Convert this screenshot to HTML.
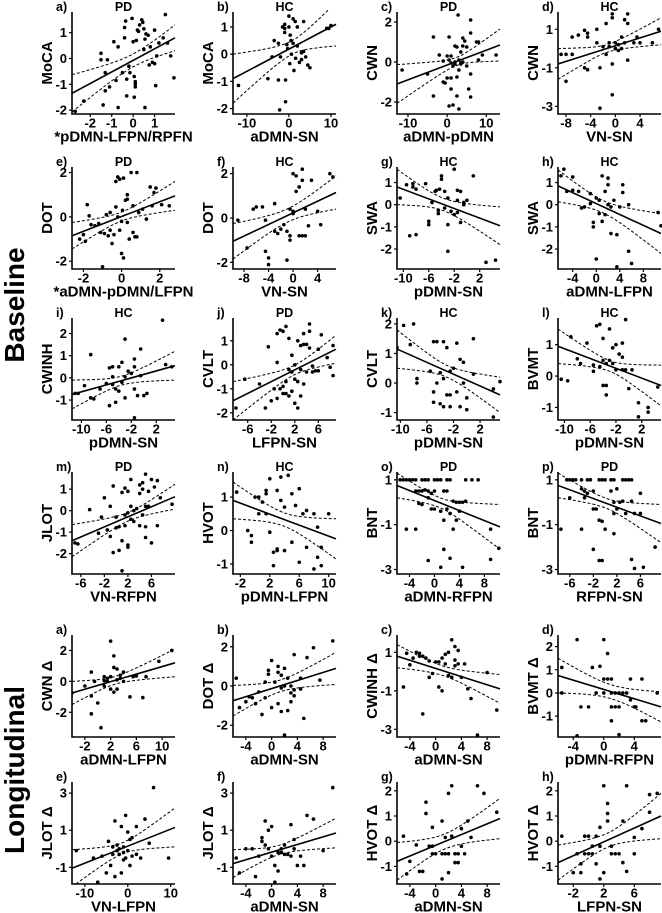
<!DOCTYPE html>
<html><head><meta charset="utf-8"><style>
html,body{margin:0;padding:0;background:#fff;}
svg{display:block;font-family:"Liberation Sans",Arial,sans-serif;font-weight:bold;}
</style></head><body>
<svg id="fig" width="662" height="913" viewBox="0 0 662 913" xmlns="http://www.w3.org/2000/svg">
<text x="0" y="0" transform="translate(24,305) rotate(-90)" text-anchor="middle" font-size="28">Baseline</text>
<text x="0" y="0" transform="translate(24,770) rotate(-90)" text-anchor="middle" font-size="28">Longitudinal</text>
</svg>
<script>
// ---- data arrays: points [x,y], fit [yLeft,yRight], ci half-widths [left,min,right] ----
const ptsA=[[-2.7,-2.05],[-2.3,-1.65],[-1.5,0.2],[-1.5,-0.05],[-1.2,-0.05],[-1.4,-1.8],[-1.3,-1.25],[-1.3,-0.55],[-1.1,-1.1],[-0.9,0.65],[-0.8,-0.85],[-0.7,0.45],[-0.7,-1.9],[-0.5,-0.55],[-0.4,1.2],[-0.35,1.45],[-0.4,0.8],[-0.3,-0.8],[-0.3,-1.45],[-0.2,-0.3],[-0.15,-0.55],[-0.05,1.55],[0,0.65],[0.05,-0.7],[0.05,-1.5],[0.1,-1.0],[0.1,-1.1],[0.1,-0.9],[0.15,0.7],[0.2,1.1],[0.25,1.05],[0.3,1.3],[0.4,1.5],[0.45,1.4],[0.5,1.15],[0.5,0.35],[0.55,0.75],[0.6,0.95],[0.55,-1.9],[0.7,0.9],[0.75,-0.25],[0.8,0.45],[0.9,-0.15],[1.0,1.1],[1.0,-0.2],[1.05,-1.05],[1.1,0.1],[1.2,0.6],[1.4,0.8],[1.5,1.7],[1.6,0.6],[1.75,0.1],[1.9,-0.75]];
const fitA=[-1.35,0.8]; const ciA=[0.72,0.25,0.5];
const ptsB=[[-12,-1.15],[-5,-0.9],[-4,-0.1],[-3.5,0.5],[-2.5,0.4],[-2.5,-0.95],[-2.2,-2.05],[-2,-0.1],[-1.5,1.0],[-1,0.95],[-1,1.1],[-1,0.8],[-0.8,-0.95],[-0.8,-1.75],[-0.5,0.35],[-0.3,0.2],[0,1.4],[0,1.0],[0.2,-0.35],[0.3,0.7],[0.5,0.5],[0.6,0.0],[1,1.3],[1,0.4],[1.2,-0.6],[1.5,1.2],[1.6,-0.15],[2,1.0],[2,0.3],[2.5,-0.3],[3,-0.2],[3,0.05],[3.5,1.2],[3.5,0.1],[4,-0.1],[4.5,-0.4],[5,-0.5],[9,0.95],[9.5,0.95],[10,1.05]];
const fitB=[-0.9,1.1]; const ciB=[0.9,0.25,0.8];
const ptsC=[[-11.5,-0.4],[-5,-0.6],[-3.5,-1.7],[-3.5,1.25],[-2,0.35],[-1,-1.0],[-0.5,-1.05],[0,0.3],[0,-0.8],[0.5,1.25],[0.5,0.1],[0.5,-2.2],[1,-0.8],[1,-1.35],[1,0.3],[1.5,-0.2],[1.5,-2.15],[2,0.8],[2,0],[2,-0.1],[2.5,0.75],[2.5,-0.75],[2.5,-1.7],[2.8,2.35],[3,0.1],[3,-2.35],[3,-0.4],[3.5,0.5],[3.5,-0.1],[4,1.2],[4,0.8],[4,0.0],[4.5,1.05],[5,0.75],[5,-0.2],[5.5,-1.35],[6,2.1],[6,1.45],[6,-0.6],[6,-1.75],[7.5,1.0],[8,1.0],[8,0.1],[9,0.35],[12.5,0.35],[-1,0.05],[1,-0.05],[3.5,-0.05]];
const fitC=[-1.1,0.85]; const ciC=[0.97,0.2,0.8];
const ptsD=[[-8.8,-0.3],[-8,-1.7],[-8,-0.3],[-7,0.6],[-7,-0.3],[-6,0.7],[-5,0.95],[-5,-1.0],[-4.5,0.8],[-4.5,-1.1],[-4.5,0.6],[-3,1.0],[-3,0.3],[-2.5,-3.1],[-2.5,-1.0],[-2,0.1],[-1.5,-0.3],[-1.5,1.3],[-1,0.1],[-1,0.3],[-0.5,1.8],[-0.5,1.6],[-0.5,-0.8],[-0.5,-2.4],[0,0.3],[0,0],[0.5,0.2],[0.5,-0.1],[1,0.0],[1,0.6],[1.5,0.3],[1.5,1.5],[2,1.8],[2,1.3],[2,-0.6],[3,0.3],[3.5,0.6],[4,0.3],[6,0.3],[7,1.0]];
const fitD=[-0.8,0.9]; const ciD=[0.8,0.2,0.7];
const ptsE=[[-2.2,-1.0],[-2,-0.8],[-1.9,-1.1],[-1.8,0.55],[-1.7,0.05],[-1.6,-0.35],[-1.4,-0.4],[-1.2,-0.3],[-1.1,-0.7],[-1,-2.25],[-0.9,-0.75],[-0.8,0.1],[-0.7,-0.85],[-0.6,-0.6],[-0.6,0.2],[-0.5,-1.2],[-0.4,-0.8],[-0.3,0.45],[-0.3,1.6],[-0.2,1.8],[-0.1,1.7],[-0.1,-0.6],[0,-0.2],[0,-1.65],[0.05,0.3],[0.1,-1.85],[0.1,1.75],[0.2,0.75],[0.3,1.0],[0.3,0.8],[0.4,-1.0],[0.5,2.0],[0.6,0.5],[0.6,-0.7],[0.7,-0.9],[0.8,2.0],[0.8,-0.9],[0.9,0.2],[1.1,0.35],[1.3,-0.1],[1.5,1.35],[1.6,0.5],[1.7,1.1],[1.8,1.3],[2.1,0.55],[2.5,0.5],[-0.2,0.0],[0.3,-0.25]];
const fitE=[-0.85,0.95]; const ciE=[0.6,0.2,0.65];
const ptsF=[[-9,-0.1],[-7.5,-1.35],[-6.5,0.4],[-6,0.5],[-5,0.5],[-4.5,-0.1],[-4.5,-1.5],[-4,-1.8],[-4,-2.1],[-3,0.65],[-3,-0.6],[-2.5,-0.7],[-2,-0.5],[-1.5,-0.3],[-1,-1.9],[-0.5,0.4],[-0.5,-1.0],[-0.5,-0.8],[0,2.0],[0,0.2],[0.5,1.2],[0.5,1.9],[1,1.4],[1,-0.8],[1.5,2.2],[1.5,1.7],[1.5,-0.8],[2,-0.8],[2,0.4],[2.5,-0.35],[3,1.7],[4,0.3],[4.5,-0.3],[6,2.0],[6.5,1.85],[0,0.3],[-1,-0.6]];
const fitF=[-1.05,1.15]; const ciF=[0.8,0.3,0.75];
const ptsG=[[-10.5,0.3],[-9.5,0.9],[-9,-1.4],[-8.5,0.8],[-8.5,0.95],[-8,-1.35],[-8,0.7],[-6.5,0.95],[-6,-0.75],[-6,-0.9],[-5.5,0.1],[-5,0.6],[-4.8,0.65],[-4.5,-0.25],[-4.5,-0.4],[-4.3,0.7],[-4,1.3],[-4,1.15],[-3.5,-0.15],[-3.5,0.6],[-3,-0.9],[-3,-2.1],[-3,0.3],[-2.5,-0.3],[-2,1.6],[-2,-0.45],[-1.5,0.2],[-1.5,-0.35],[-1,0.6],[-1,-0.8],[-0.5,0.0],[-0.5,0.1],[0,0.2],[1,1.3],[3,-2.6],[4.5,-2.5],[-1.5,0.65]];
const fitG=[0.8,-0.95]; const ciG=[0.8,0.28,0.85];
const ptsH=[[-6,1.3],[-5.5,1.6],[-5,0.6],[-4,1.25],[-4,0.65],[-3,0.6],[-2.5,-0.15],[-2,-0.1],[-1,0.5],[-1,0.05],[-0.5,-0.8],[-0.5,-1.0],[0,0.3],[0,-2.45],[0.5,0.2],[1,1.3],[1,-0.75],[1.5,0.6],[2,1.2],[2,0.9],[2,0.0],[2.5,-0.1],[2.5,-1.3],[3,0.2],[3.5,-1.35],[3.5,-2.8],[4,-0.1],[4.5,0.9],[4.5,0.55],[5.5,0.0],[5.5,-2.1],[6,-2.65],[10.5,-0.35],[11,-0.95],[0.5,-0.4],[1.5,-0.45]];
const fitH=[0.85,-1.3]; const ciH=[0.72,0.28,0.9];
const ptsI=[[-11,-0.7],[-10.5,-0.7],[-9.5,-0.35],[-8.5,1.05],[-8.5,-0.9],[-8,-0.95],[-7,-0.5],[-6,-0.25],[-5.5,0.45],[-5.5,-1.25],[-5,0.5],[-5,0.05],[-5,-0.3],[-4.5,-1.1],[-4.5,-0.5],[-4,0.5],[-4,-0.6],[-3.5,0.7],[-3.5,-0.2],[-3,-0.9],[-3,1.75],[-3,0.05],[-2.5,0.3],[-2,0.2],[-1.5,0.5],[-1.5,0.85],[-1.5,-0.5],[-1.5,-1.8],[-1,-0.8],[-0.5,1.3],[-0.5,0.1],[0,-0.8],[0.5,-0.7],[3,2.6],[3.5,0.6],[4.5,0.5]];
const fitI=[-0.75,0.55]; const ciI=[0.65,0.2,0.65];
const ptsJ=[[-8,-1.8],[-6.5,-0.6],[-4,-0.8],[-3,-1.8],[-2.5,0.75],[-2,-1.5],[-1.5,-1.0],[-1,1.3],[-1,0.1],[-1,-1.4],[-0.5,1.45],[-0.5,-1.0],[0,1.4],[0,-0.9],[0,-1.2],[0.5,1.6],[0.5,-0.7],[0.5,-1.2],[1,1.1],[1,-0.2],[1,-1.3],[1.5,0.4],[1.5,-0.3],[1.5,-1.1],[2,0.0],[2,-0.6],[2,-1.6],[2.5,-1.8],[2.5,1.0],[2.5,-0.7],[3,0.8],[3,-0.2],[3,-1.3],[3.5,1.3],[3.5,0.85],[3.5,-0.8],[4,0.85],[4,-0.3],[4.5,1.7],[4.5,1.4],[4.5,0.7],[5,-0.05],[5,-0.3],[5.5,-0.25],[6,-0.25],[6,0.65],[6.5,1.25],[7.5,0.3],[8,-0.1],[8.5,0.8],[8.5,-0.45]];
const fitJ=[-1.5,0.65]; const ciJ=[0.8,0.2,0.58];
const ptsK=[[-10.5,1.2],[-9.5,1.95],[-8.5,1.3],[-8,2.0],[-7.5,0.15],[-7.5,0.0],[-5.5,0.4],[-5,1.4],[-5,-0.65],[-5,-0.3],[-4.5,1.4],[-4.5,0.0],[-4,-0.7],[-4,0.35],[-3.5,-0.8],[-3.5,1.4],[-3.5,0.15],[-3,1.2],[-3,-0.4],[-2.5,-0.4],[-2.5,0.4],[-2.5,-0.8],[-2,0.5],[-1.5,1.35],[-1.5,-0.3],[-1,0.8],[-1,-0.8],[-0.5,0.7],[-0.5,0.0],[0,-0.5],[0,-0.9],[1,1.5],[1,0.3],[4,-0.2],[4,-1.15],[5,0.05]];
const fitK=[1.15,-0.4]; const ciK=[0.65,0.2,0.6];
const ptsL=[[-10.5,-0.1],[-9.5,-0.15],[-9,1.25],[-8,0.55],[-7.5,0.4],[-6.5,1.05],[-5.5,0.35],[-5.5,0.15],[-5,1.6],[-4.5,0.3],[-4.5,1.65],[-4,1.2],[-4,0.5],[-4,-0.3],[-3.5,-0.3],[-3.5,0.4],[-3.5,-0.6],[-3,1.5],[-3,0.5],[-2.5,0.9],[-2.5,0.4],[-2,1.0],[-2,0.2],[-1.5,0.7],[-1,1.05],[-1,0.6],[-1,0.2],[-0.5,1.8],[-0.5,0.2],[0,-0.4],[0.5,0.2],[1.5,-0.85],[1.5,-1.3],[3,-1.0],[3,-1.15],[4.5,-0.35]];
const fitL=[0.95,-0.3]; const ciL=[0.55,0.17,0.65];
const ptsM=[[-7,-1.5],[-6.5,-1.55],[-4.5,0.05],[-3,-1.05],[-2.5,-0.3],[-2,0.6],[-1.5,-0.9],[-1,-1.2],[-1,0.2],[-0.5,-1.95],[-0.5,1.15],[0,-0.3],[0,-0.8],[0.5,-1.85],[0.5,-0.75],[1,-2.8],[1,0.85],[1,-1.4],[1.5,-0.2],[1.5,1.05],[1.5,-0.7],[2,-1.7],[2,-0.1],[2,0.9],[2,-1.6],[2.5,1.45],[2.5,-0.4],[3,-0.5],[3,0.0],[3.5,0.1],[4,-0.7],[4,0.8],[4,1.2],[4.5,1.3],[4.5,1.0],[4.5,-0.2],[5,1.7],[5,-0.75],[5,-1.25],[5.5,0.9],[5.5,0.2],[6,-1.5],[6,1.45],[6.5,1.1],[7,1.4],[7,-0.7],[7.5,0.6],[9.5,0.3],[5,0.2],[2.5,0.2]];
const fitM=[-1.4,0.65]; const ciM=[0.75,0.2,0.58];
const ptsN=[[-2.5,1.15],[-1,0.0],[-0.5,-0.35],[-0.5,-0.15],[0,1.0],[0.5,1.0],[0.5,0.5],[1,0.85],[1.5,1.2],[1.5,1.1],[1.5,0.5],[2,-0.05],[2,1.55],[2.5,-0.65],[2.5,-1.05],[3,-0.6],[3,-0.55],[3,1.2],[3.5,1.6],[3.5,0.9],[4,-0.6],[4,0.7],[4.5,1.65],[5,1.1],[5,-0.35],[5.5,0.75],[6,1.25],[6,-0.95],[6.5,0.5],[7,-0.5],[7,0.6],[8,-1.15],[8,0.5],[8.5,0.1],[8.5,-0.8],[9,-0.5],[9,-1.05],[10,0.5]];
const fitN=[0.9,-0.25]; const ciN=[0.55,0.2,0.6];
const ptsO=[[-5.5,1],[-5,1],[-4.5,1],[-4,1],[-3.5,1],[-3,1],[-2,1],[-1.5,1],[-1,1],[0,1],[0.5,1],[1,1],[2,1],[2.5,1],[5,1],[6,1],[7,1],[-4.5,-1.2],[-3,-1.2],[-3,0.5],[-2.5,0.5],[-2,0.5],[-1.5,0.55],[-1,0.5],[-0.5,0.4],[0,0.5],[1.5,0.5],[2,0.5],[-2,-0.1],[-1,0.2],[-0.5,-0.3],[0,-0.3],[1,-0.4],[2,-0.3],[3,0.05],[3.5,0],[4,0],[4.5,0.0],[5,0.05],[4,-0.4],[-1,-2.6],[1,-2.9],[1.5,-2.1],[2.5,-2.5],[3,-1.2],[3.5,-0.8],[4.5,-2.9],[1.5,-0.8],[9,-1.2],[9,-2.55],[10.3,-2.05],[-2.5,-0.05],[2.5,-0.5]];
const fitO=[0.75,-1.1]; const ciO=[0.55,0.22,1.0];
const ptsP=[[-7.5,-1.2],[-6.5,1],[-6,1],[-5.5,1],[-5,1],[-4,1],[-3,1],[-2.5,1],[-1,1],[-0.5,1],[0,1],[1,1],[1.5,1],[3,1],[3.5,1],[4,1],[4.5,1],[-6,0.2],[-4,0.6],[-3.5,0.5],[-3,0.4],[-3.5,0.2],[-2,-0.3],[-1.5,-0.3],[-1,-0.8],[-0.5,-0.85],[0,-1.2],[1,0.5],[1.5,0.0],[1.5,-0.5],[2,-0.3],[2.5,0.0],[3,0.05],[3.5,-0.5],[4.5,0.05],[5,-0.5],[6,0.4],[6,-0.5],[-4,-1.2],[-2,-2.1],[-1,-2.6],[-0.5,-2.6],[4.5,-2.55],[5,-2.95],[6.5,-2.9],[8.5,-2.0],[1.5,-1.4],[-2,0.5],[2,0.6]];
const fitP=[0.75,-0.95]; const ciP=[0.55,0.22,0.85];
const ptsLA=[[-4,-0.75],[-2,-0.3],[-1,0.6],[-1,-0.95],[-1,-2.1],[-0.5,0],[0,-1.4],[0.5,-3.0],[1,0.3],[1,-0.3],[1.5,0.2],[1.5,0],[2,0.3],[2,-0.5],[2,2.6],[2.5,0.9],[2.5,1.65],[2.5,-0.7],[3,0.8],[3,-0.5],[3.5,0.4],[3.5,0.2],[4,0.6],[4,0],[5,-1.0],[5.5,0.3],[6,0.35],[7,-1.05],[7.5,0.3],[9.5,1.3],[11.5,2.0],[3,0.1],[1,0.05]];
const fitLA=[-0.75,1.2]; const ciLA=[0.75,0.25,0.9];
const ptsLB=[[-5.5,0.4],[-5,-1.1],[-4,-0.8],[-3.5,-0.55],[-3,-0.6],[-2.5,-0.9],[-2,-0.3],[-1.5,-1.45],[-1,0.2],[-1,-0.6],[-0.5,0.8],[-0.5,0.6],[0,-1.1],[0,1.3],[0.5,0.2],[1,1.0],[1,0.7],[1,-0.9],[1.5,-1.3],[1.5,0.55],[1.5,-0.1],[2,0.0],[2,-2.5],[2,0.9],[2.5,0.4],[2.5,-1.25],[3,-0.8],[3,0.0],[3.5,-0.5],[3.5,-0.2],[3.5,1.6],[4.5,0.4],[4.5,-0.15],[5,-1.65],[5.5,1.45],[6.5,1.95],[7.5,0.3],[9.5,2.3],[3,-0.35]];
const fitLB=[-0.75,0.9]; const ciLB=[0.78,0.3,0.82];
const ptsLC=[[-5,-0.8],[-4.5,0.95],[-4,0.35],[-3.5,0.7],[-3,1.0],[-2.5,0.95],[-2.5,0.8],[-2,-2.2],[-2,0.8],[-1.5,0.7],[-1,0.55],[-1,-0.3],[-0.5,-0.1],[0,0.5],[0.5,0.5],[0.5,-0.8],[1,-1.0],[1,0.7],[1.5,0.9],[1.5,0.4],[2,1.0],[2,-0.2],[2.5,1.65],[2.5,-0.3],[3,1.3],[3,0.6],[3,0.3],[3.5,1.1],[3.5,0.4],[4,-0.3],[4.5,0.4],[5,-0.9],[5.5,-1.4],[6.5,-3.3],[8,-0.05],[9.5,-2.0]];
const fitLC=[0.8,-0.9]; const ciLC=[0.6,0.25,0.75];
const ptsLD=[[-5.5,1.1],[-5.5,0.0],[-3.5,2.3],[-3.5,-1.85],[-3,-0.6],[-2,-0.6],[-1.5,1.1],[-1,0.0],[-0.5,1.15],[0,2.3],[0,0.6],[0,0.0],[0.5,1.7],[0.5,0.6],[1,0.6],[1,0.0],[1,-0.6],[1,-1.2],[1.5,0],[1.5,-0.6],[2,0],[2,-1.8],[2,-0.6],[2.5,0],[3,0],[3.5,0.6],[3.5,-0.3],[4,-0.6],[4.2,-0.6],[5,0.6],[5,-1.2],[5.5,-1.2],[7,0.0]];
const fitLD=[0.75,-0.6]; const ciLD=[0.75,0.3,0.65];
const ptsLE=[[-12,-0.1],[-8,-0.5],[-7,-1.8],[-6,-0.4],[-5,-1.3],[-4.5,0.4],[-4,-0.9],[-3.5,0.1],[-3,-1.5],[-3,1.5],[-2.5,-0.1],[-2,-0.3],[-2,0.0],[-1.5,1.2],[-1.5,-1.3],[-1,-0.2],[-1,-0.6],[-0.5,1.8],[-0.5,-0.5],[0,-0.1],[0,0.9],[0.5,-0.9],[0.5,0.5],[1,0.6],[1,-0.4],[2,1.2],[2,-0.3],[3,-0.5],[4,1.6],[5,0.3],[6,3.3],[9.5,-0.5],[-3.5,-0.3],[-2.5,0.2],[-1,0.1]];
const fitLE=[-1.05,1.15]; const ciLE=[1.0,0.3,1.05];
const ptsLF=[[-5.5,-0.5],[-5,-1.3],[-4,0],[-3,0],[-2.5,-1.5],[-2,-0.4],[-1.5,0.6],[-1.5,0.4],[-1,1.5],[-1,0.2],[-0.5,1.0],[-0.5,0.0],[0,1.2],[0,-0.4],[0.5,-1.8],[0.5,-0.9],[1,-1.2],[1,-0.2],[1.5,-0.2],[1.5,0],[2,-0.3],[2,0.2],[2.5,-0.3],[3,1.3],[3,-0.4],[3.5,0.5],[3.5,0.0],[4,-0.9],[4.5,-0.4],[5,-0.9],[5.5,1.8],[6.5,1.6],[8,-0.1],[9.5,3.3]];
const fitLF=[-0.8,0.85]; const ciLF=[0.75,0.25,0.8];
const ptsLG=[[-5,0.2],[-4.5,-1.3],[-4,-0.8],[-3,-0.15],[-2.5,-1.2],[-2,-1.2],[-1.5,1.55],[-1.5,1.1],[-1,-0.2],[-0.5,0.55],[-0.5,-0.2],[-0.5,-0.5],[0,-0.5],[1,0.8],[1,-1.5],[1,-0.5],[1.5,0.15],[1.5,-0.5],[2,1.9],[2,-1.25],[2,-0.5],[2.5,2.2],[2.5,0.2],[3,-0.5],[3,-0.85],[3.5,-0.85],[3.5,-0.5],[4,-0.2],[4,0.5],[4.5,-0.5],[5,0.8],[5.5,0.15],[6.5,2.2],[7.5,1.9],[9.5,1.15]];
const fitLG=[-0.8,0.9]; const ciLG=[0.75,0.3,0.8];
const ptsLH=[[-3.5,0.2],[-2,-1.25],[-1.5,-0.5],[-1,-1.25],[-1,-0.9],[-0.5,0.2],[-0.5,-0.5],[0,0.2],[0,-0.5],[0.5,-0.5],[0.5,-0.2],[1,0.2],[1,-0.9],[1.5,-1.5],[1.5,-0.2],[1.5,0.55],[2,2.2],[2,-1.25],[2.5,1.5],[2.5,0.8],[2.5,1.1],[3,-0.5],[3,-0.2],[3.5,-0.5],[4,-0.5],[4.5,0.8],[4.5,-0.85],[5,2.2],[5,-1.2],[6,-0.5],[6,0.15],[7,0.5],[8,1.15],[8,1.85],[9,1.9]];
const fitLH=[-0.85,1.0]; const ciLH=[0.7,0.28,0.9];

// ---- tick arrays ----
const xtA=[-2,-1,0,1], ytA=[-2,-1,0,1];
const xtB=[-10,0,10], ytB=[-2,-1,0,1];
const xtC=[-10,0,10], ytC=[-2,0,2];
const xtD=[-8,-4,0,4], ytD=[-3,-1,1];
const xtE=[-2,0,2], ytE=[-2,0,2];
const xtF=[-8,-4,0,4], ytF=[-2,0,2];
const xtG=[-10,-6,-2,2], ytG=[-2,-1,0,1];
const xtH=[-4,0,4,8], ytH=[-2,-1,0,1];
const xtI=[-10,-6,-2,2], ytI=[-1,0,1,2];
const xtJ=[-6,-2,2,6], ytJ=[-2,-1,0,1];
const xtK=[-10,-6,-2,2], ytK=[-1,0,1,2];
const xtL=[-10,-6,-2,2], ytL=[-1,0,1];
const xtM=[-6,-2,2,6], ytM=[-2,-1,0,1];
const xtN=[-2,2,6,10], ytN=[-1,0,1];
const xtO=[-4,0,4,8], ytO=[-3,-1,1];
const xtP=[-6,-2,2,6], ytP=[-3,-1,1];
const xtLA=[-2,2,6,10], ytLA=[-2,0,2];
const xtLB=[-4,0,4,8], ytLB=[-2,0,2];
const xtLC=[-4,0,4,8], ytLC=[-3,-1,1];
const xtLD=[-4,0,4], ytLD=[-1,0,1,2];
const xtLE=[-10,0,10], ytLE=[-1,1,3];
const xtLF=[-4,0,4,8], ytLF=[-1,1,3];
const xtLG=[-4,0,4,8], ytLG=[-1,0,1,2];
const xtLH=[-2,2,6], ytLH=[-1,0,1,2];

const colX=[72,233,397,558], rowY=[12,167,318,472,635,782], PW=103, PH=102;
const panels=[
 {id:'a',r:0,c:0,t:'PD',yl:'MoCA',xl:'*pDMN-LFPN/RPFN',xd:[-2.85,1.95],yd:[-2.15,1.8],pts:ptsA,fit:fitA,ci:ciA,xt:xtA,yt:ytA},
 {id:'b',r:0,c:1,t:'HC',yl:'MoCA',xl:'aDMN-SN',xd:[-13.3,11.2],yd:[-2.2,1.55],pts:ptsB,fit:fitB,ci:ciB,xt:xtB,yt:ytB},
 {id:'c',r:0,c:2,t:'PD',yl:'CWN',xl:'aDMN-pDMN',xd:[-12.8,13.5],yd:[-2.6,2.5],pts:ptsC,fit:fitC,ci:ciC,xt:xtC,yt:ytC},
 {id:'d',r:0,c:3,t:'HC',yl:'CWN',xl:'VN-SN',xd:[-9.3,7.4],yd:[-3.4,1.9],pts:ptsD,fit:fitD,ci:ciD,xt:xtD,yt:ytD},
 {id:'e',r:1,c:0,t:'PD',yl:'DOT',xl:'*aDMN-pDMN/LFPN',xd:[-2.6,2.8],yd:[-2.35,2.25],pts:ptsE,fit:fitE,ci:ciE,xt:xtE,yt:ytE},
 {id:'f',r:1,c:1,t:'HC',yl:'DOT',xl:'VN-SN',xd:[-9.8,7],yd:[-2.3,2.3],pts:ptsF,fit:fitF,ci:ciF,xt:xtF,yt:ytF},
 {id:'g',r:1,c:2,t:'HC',yl:'SWA',xl:'pDMN-SN',xd:[-11,5.2],yd:[-2.9,1.7],pts:ptsG,fit:fitG,ci:ciG,xt:xtG,yt:ytG},
 {id:'h',r:1,c:3,t:'HC',yl:'SWA',xl:'aDMN-LFPN',xd:[-6.5,11],yd:[-2.9,1.7],pts:ptsH,fit:fitH,ci:ciH,xt:xtH,yt:ytH},
 {id:'i',r:2,c:0,t:'HC',yl:'CWINH',xl:'pDMN-SN',xd:[-11.5,5],yd:[-1.9,2.7],pts:ptsI,fit:fitI,ci:ciI,xt:xtI,yt:ytI},
 {id:'j',r:2,c:1,t:'PD',yl:'CVLT',xl:'LFPN-SN',xd:[-8.5,9],yd:[-2.3,1.95],pts:ptsJ,fit:fitJ,ci:ciJ,xt:xtJ,yt:ytJ},
 {id:'k',r:2,c:2,t:'HC',yl:'CVLT',xl:'pDMN-SN',xd:[-10.5,5],yd:[-1.25,2.2],pts:ptsK,fit:fitK,ci:ciK,xt:xtK,yt:ytK},
 {id:'l',r:2,c:3,t:'HC',yl:'BVMT',xl:'pDMN-SN',xd:[-11,5],yd:[-1.4,1.85],pts:ptsL,fit:fitL,ci:ciL,xt:xtL,yt:ytL},
 {id:'m',r:3,c:0,t:'PD',yl:'JLOT',xl:'VN-RFPN',xd:[-7.5,10],yd:[-2.95,1.8],pts:ptsM,fit:fitM,ci:ciM,xt:xtM,yt:ytM},
 {id:'n',r:3,c:1,t:'HC',yl:'HVOT',xl:'pDMN-LFPN',xd:[-3,11],yd:[-1.3,1.75],pts:ptsN,fit:fitN,ci:ciN,xt:xtN,yt:ytN},
 {id:'o',r:3,c:2,t:'PD',yl:'BNT',xl:'aDMN-RFPN',xd:[-6,10.5],yd:[-3.2,1.35],pts:ptsO,fit:fitO,ci:ciO,xt:xtO,yt:ytO},
 {id:'p',r:3,c:3,t:'PD',yl:'BNT',xl:'RFPN-SN',xd:[-8,9.5],yd:[-3.2,1.35],pts:ptsP,fit:fitP,ci:ciP,xt:xtP,yt:ytP},
 {id:'a',r:4,c:0,t:'',yl:'CWN Δ',xl:'aDMN-LFPN',xd:[-4,12],yd:[-3.6,3.0],pts:ptsLA,fit:fitLA,ci:ciLA,xt:xtLA,yt:ytLA},
 {id:'b',r:4,c:1,t:'',yl:'DOT Δ',xl:'aDMN-SN',xd:[-6,10],yd:[-2.6,2.6],pts:ptsLB,fit:fitLB,ci:ciLB,xt:xtLB,yt:ytLB},
 {id:'c',r:4,c:2,t:'',yl:'CWINH Δ',xl:'aDMN-SN',xd:[-6,10],yd:[-3.4,1.9],pts:ptsLC,fit:fitLC,ci:ciLC,xt:xtLC,yt:ytLC},
 {id:'d',r:4,c:3,t:'',yl:'BVMT Δ',xl:'pDMN-RFPN',xd:[-6,7.5],yd:[-1.9,2.5],pts:ptsLD,fit:fitLD,ci:ciLD,xt:xtLD,yt:ytLD},
 {id:'e',r:5,c:0,t:'',yl:'JLOT Δ',xl:'VN-LFPN',xd:[-13,11],yd:[-1.9,3.6],pts:ptsLE,fit:fitLE,ci:ciLE,xt:xtLE,yt:ytLE},
 {id:'f',r:5,c:1,t:'',yl:'JLOT Δ',xl:'aDMN-SN',xd:[-6,10],yd:[-1.9,3.6],pts:ptsLF,fit:fitLF,ci:ciLF,xt:xtLF,yt:ytLF},
 {id:'g',r:5,c:2,t:'',yl:'HVOT Δ',xl:'aDMN-SN',xd:[-6,10],yd:[-1.7,2.35],pts:ptsLG,fit:fitLG,ci:ciLG,xt:xtLG,yt:ytLG},
 {id:'h',r:5,c:3,t:'',yl:'HVOT Δ',xl:'LFPN-SN',xd:[-4,9.5],yd:[-1.7,2.35],pts:ptsLH,fit:fitLH,ci:ciLH,xt:xtLH,yt:ytLH}
];

const NS='http://www.w3.org/2000/svg';
const svg=document.getElementById('fig');
function mk(tag,attrs,parent){const e=document.createElementNS(NS,tag);for(const k in attrs)e.setAttribute(k,attrs[k]);parent.appendChild(e);return e;}
const defs=mk('defs',{},svg);

panels.forEach((p,idx)=>{
  const x0=colX[p.c], y0=rowY[p.r];
  const sx=v=>x0+(v-p.xd[0])/(p.xd[1]-p.xd[0])*PW;
  const sy=v=>y0+PH-(v-p.yd[0])/(p.yd[1]-p.yd[0])*PH;
  const prefix=(p.r>=4?'long-':'base-')+p.id;
  const g=mk('g',{},svg);
  
  
  const cp=mk('clipPath',{id:'cp'+idx},defs);
  mk('rect',{x:x0,y:y0-2,width:PW+2,height:PH+2},cp);
  const lt=mk('text',{x:x0-16,y:y0-1,'font-size':12.5,'text-anchor':'start'},g);lt.textContent=p.id+')';
  
  
  if(p.t){const tt=mk('text',{x:x0+PW/2,y:y0-1,'font-size':12.5,'text-anchor':'middle'},g);tt.textContent=p.t;
    
    }
  const ax=mk('path',{d:`M${x0},${y0} V${y0+PH} H${x0+PW}`,fill:'none',stroke:'#000','stroke-width':1.6},g);
  
  
  p.xt.forEach(v=>{const X=sx(v);
    mk('line',{x1:X,x2:X,y1:y0+PH,y2:y0+PH+3,stroke:'#000','stroke-width':1.2},g);
    const t=mk('text',{x:X,y:y0+PH+13.5,'font-size':13,'text-anchor':'middle'},g);t.textContent=v;
    
    });
  p.yt.forEach(v=>{const Y=sy(v);
    mk('line',{x1:x0-3,x2:x0,y1:Y,y2:Y,stroke:'#000','stroke-width':1.2},g);
    const t=mk('text',{x:x0-5,y:Y+4.5,'font-size':13,'text-anchor':'end'},g);t.textContent=v;
    
    });
  const xl=mk('text',{x:x0+PW/2,y:y0+PH+27.5,'font-size':15,'text-anchor':'middle'},g);xl.textContent=p.xl;
  
  
  const yl=mk('text',{x:0,y:0,transform:`translate(${x0-20},${y0+PH/2}) rotate(-90)`,'font-size':15,'text-anchor':'middle'},g);yl.textContent=p.yl;
  
  
  const dg=mk('g',{'clip-path':`url(#cp${idx})`},g);
  const xL=p.xd[0], xR=p.xd[1];
  const xm=p.pts.reduce((s,q)=>s+q[0],0)/p.pts.length;
  const fitY=x=>p.fit[0]+(p.fit[1]-p.fit[0])*(x-xL)/(xR-xL);
  const hw=x=>{const h0=p.ci[1];const he=x<xm?p.ci[0]:p.ci[2];const xe=x<xm?xL:xR;
    const f=(x-xm)/(xe-xm);return Math.sqrt(h0*h0+(he*he-h0*h0)*f*f);};
  let up='',lo='';
  for(let i=0;i<=40;i++){const x=xL+(xR-xL)*i/40;
    up+=(i?'L':'M')+sx(x).toFixed(1)+','+sy(fitY(x)+hw(x)).toFixed(1);
    lo+=(i?'L':'M')+sx(x).toFixed(1)+','+sy(fitY(x)-hw(x)).toFixed(1);}
  const cu=mk('path',{d:up,fill:'none',stroke:'#000','stroke-width':1,'stroke-dasharray':'3,2'},dg);
  
  
  const cl=mk('path',{d:lo,fill:'none',stroke:'#000','stroke-width':1,'stroke-dasharray':'3,2'},dg);
  
  
  const fl=mk('line',{x1:sx(xL),y1:sy(p.fit[0]),x2:sx(xR),y2:sy(p.fit[1]),stroke:'#000','stroke-width':1.6},dg);
  
  
  p.pts.forEach(q=>{const c=mk('circle',{cx:sx(q[0]),cy:sy(q[1]),r:1.8,fill:'#000'},dg);
    
    });
});
</script>
</body></html>
